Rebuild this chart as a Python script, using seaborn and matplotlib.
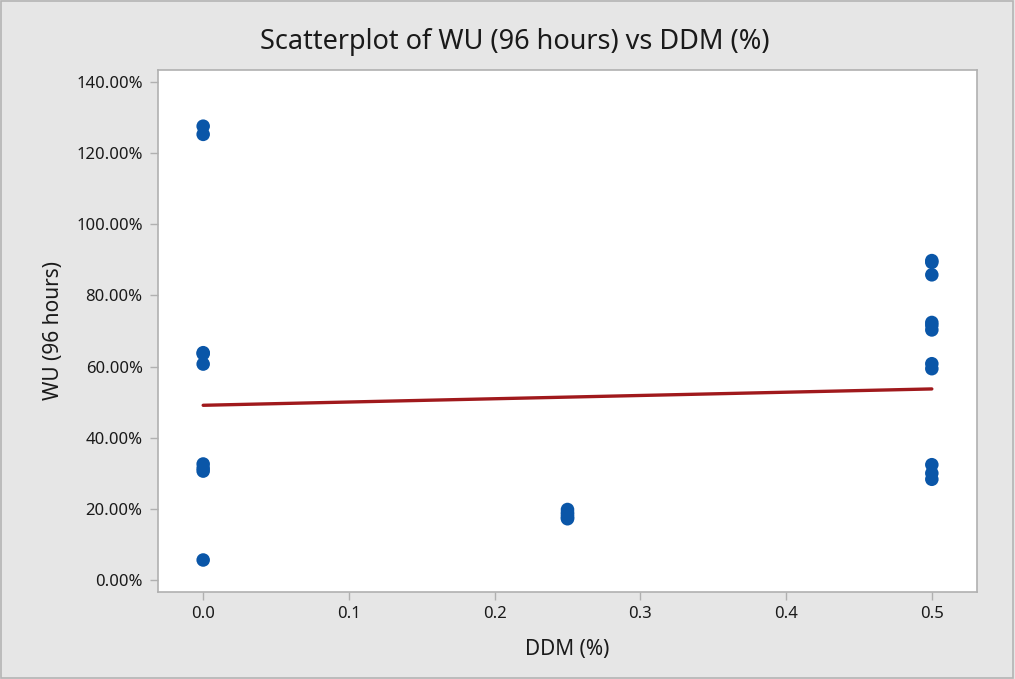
import numpy as np
import pandas as pd
import matplotlib
matplotlib.use("Agg")
import matplotlib.pyplot as plt
from matplotlib.ticker import PercentFormatter, FixedLocator
from matplotlib.patches import Rectangle
import seaborn as sns

# ---- data ----
ddm_0 = [127.6, 125.3, 63.9, 63.6, 60.7, 32.6, 31.4, 30.6, 5.6]
ddm_025 = [19.8, 19.0, 18.5, 17.9, 17.4, 17.2]
ddm_05 = [89.8, 89.3, 85.8, 72.4, 71.6, 70.3, 60.8, 59.4, 32.4, 30.0, 28.3]
ddm_levels = [0.0, 0.25, 0.5]
x_ticks = [0.0, 0.1, 0.2, 0.3, 0.4, 0.5]
y_ticks = [0, 20, 40, 60, 80, 100, 120, 140]

x_vals = [ddm_levels[0]] * len(ddm_0) + [ddm_levels[1]] * len(ddm_025) + [ddm_levels[2]] * len(ddm_05)
y_vals = ddm_0 + ddm_025 + ddm_05
df = pd.DataFrame({"DDM (%)": x_vals, "WU (96 hours)": y_vals})

sns.set_style("white")
plt.rcParams["font.family"] = ["Noto Sans", "DejaVu Sans"]

bg = "#e6e6e6"
fig = plt.figure(figsize=(10.15, 6.79), dpi=100, facecolor=bg)
ax = fig.add_axes([158 / 1015, 1 - 592 / 679, (977 - 158) / 1015, (592 - 70) / 679])
ax.set_facecolor("white")

sns.regplot(data=df, x="DDM (%)", y="WU (96 hours)", ax=ax, ci=None,
            scatter_kws=dict(s=95, color="#0a56a8", edgecolor="none", alpha=1),
            line_kws=dict(color="#a0191c", lw=2.4))

ax.set_xlim(-0.031, 0.531)
ax.set_ylim(-3.4, 143.4)
ax.xaxis.set_major_locator(FixedLocator(x_ticks))
ax.yaxis.set_major_locator(FixedLocator(y_ticks))
ax.xaxis.set_major_formatter(matplotlib.ticker.FormatStrFormatter("%.1f"))
ax.yaxis.set_major_formatter(PercentFormatter(decimals=2))

for sp in ax.spines.values():
    sp.set_color("#b0b0b0")
    sp.set_linewidth(1.2)
ax.tick_params(axis="both", which="major", direction="out", length=6, width=1,
               color="#b0b0b0", labelsize=12, labelcolor="#1a1a1a",
               left=True, bottom=True, pad=5)
ax.tick_params(axis="x", pad=4)

ax.set_xlabel("DDM (%)", fontsize=15, color="#1a1a1a", labelpad=12)
ax.set_ylabel("WU (96 hours)", fontsize=15, color="#1a1a1a", labelpad=9)
fig.text(515 / 1015, 1 - 42 / 679, "Scatterplot of WU (96 hours) vs DDM (%)",
         ha="center", va="center", fontsize=19.5, color="#1a1a1a")

fig.patches.append(Rectangle((0.001, 0.002), 0.997, 0.996, transform=fig.transFigure,
                             fill=False, edgecolor="#b4b4b4", lw=1.2))

fig.savefig("out.png", dpi=100, facecolor=bg)
